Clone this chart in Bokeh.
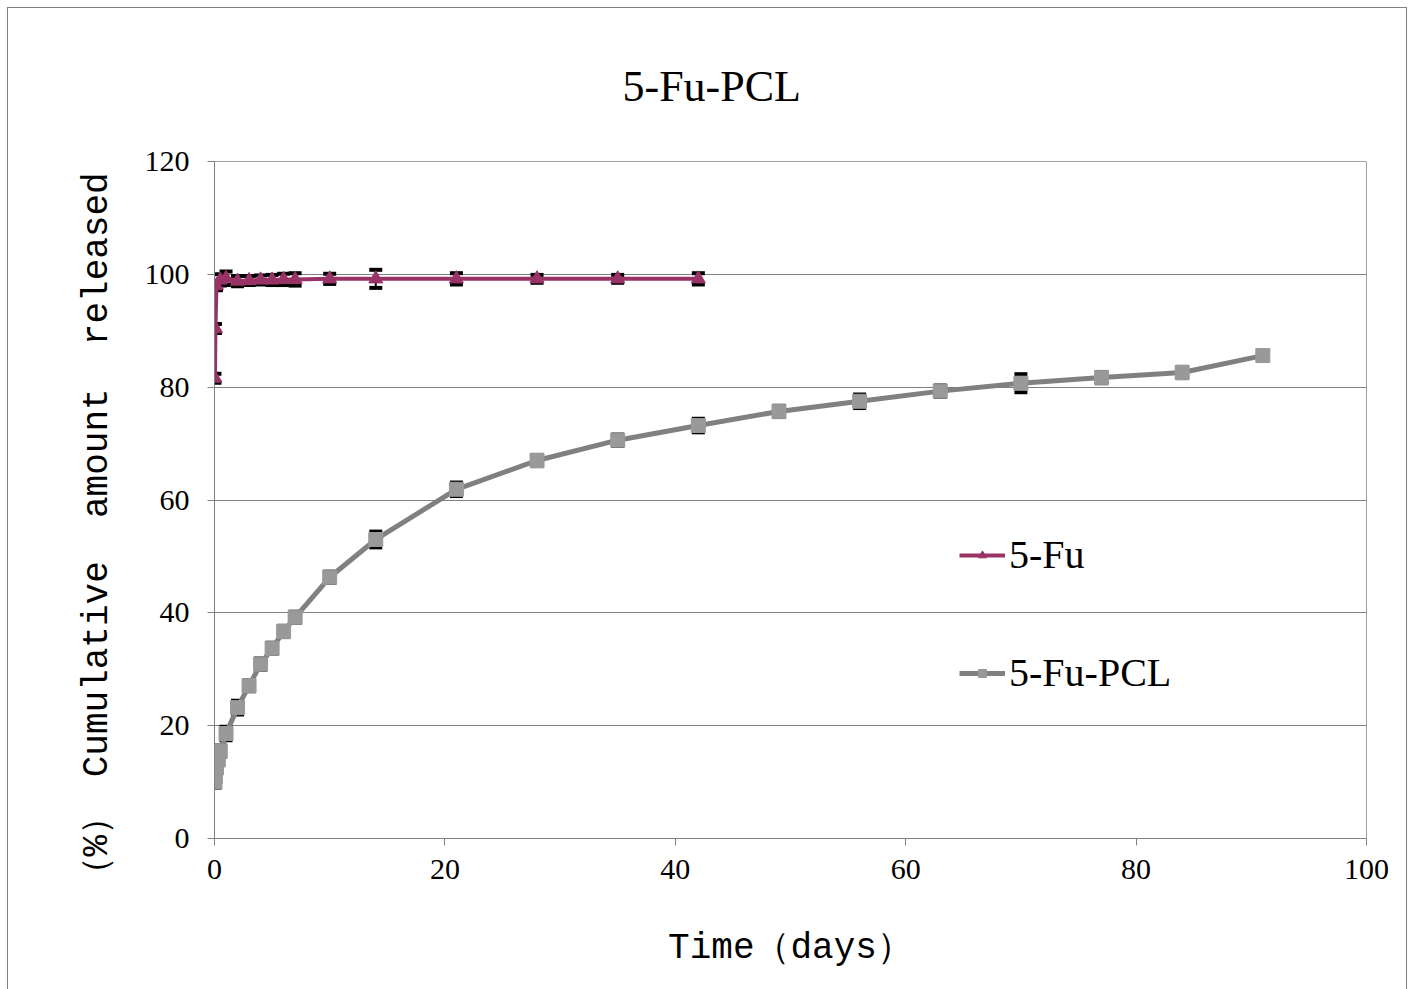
from bokeh.plotting import figure
from bokeh.models import ColumnDataSource, Whisker, TeeHead, Legend, LegendItem, FixedTicker, Range1d
from bokeh.embed import file_html
from bokeh.resources import INLINE

# ---- data ----
fu_t = [0.04, 0.08, 0.17, 0.5, 1, 2, 3, 4, 5, 6, 7, 10, 14, 21, 28, 35, 42]
fu_v = [81.6, 90.4, 98.0, 99.0, 99.3, 98.8, 98.9, 99.0, 99.0, 99.1, 99.1, 99.2, 99.2, 99.2, 99.2, 99.2, 99.2]
fu_e = [0.8, 0.8, 0.8, 1.0, 1.2, 0.9, 0.8, 0.8, 0.9, 1.0, 1.1, 0.9, 1.6, 1.0, 0.7, 0.7, 1.0]

pcl_t = [0.04, 0.08, 0.17, 0.33, 0.5, 1, 2, 3, 4, 5, 6, 7, 10, 14, 21, 28, 35, 42, 49, 56, 63, 70, 77, 84, 91]
pcl_v = [10.0, 11.0, 12.5, 14.0, 15.5, 18.6, 23.2, 27.1, 30.9, 33.7, 36.7, 39.2, 46.3, 53.0, 61.9, 67.0,
         70.6, 73.2, 75.7, 77.5, 79.3, 80.7, 81.7, 82.6, 85.6]
pcl_e = [1.0, 1.0, 1.0, 1.0, 1.0, 1.2, 1.2, 1.0, 1.0, 1.0, 1.0, 1.0, 1.0, 1.4, 1.2, 1.0,
         1.0, 1.2, 1.0, 1.2, 1.0, 1.6, 1.0, 1.0, 0.6]

x_ticks = [0, 20, 40, 60, 80, 100]
y_ticks = [0, 20, 40, 60, 80, 100, 120]

title_text = "5-Fu-PCL"
x_label = "Time（days）"
y_label = "（%）\u00a0Cumulative\u00a0 amount\u00a0 released\u00a0\u00a0\u00a0"

# page offset of the drawing (a 1px frame sits 8px in from the page corner)
OX, OY = 8, 8
W, H = 1400, 983
ML, MT = 214 - OX, 161 - OY
MR = W - (1366 - OX)
MB = H - (838 - OY)
p = figure(width=W, height=H, output_backend="svg", toolbar_location=None,
           x_range=Range1d(0, 100), y_range=Range1d(0, 120),
           min_border_left=ML, min_border_right=MR, min_border_top=MT, min_border_bottom=MB)
p.background_fill_color = "white"
p.border_fill_color = "white"
p.outline_line_color = "#a0a0a0"
p.outline_line_width = 1
p.styles = {"margin-left": "7px", "margin-top": "7px", "border": "1px solid #808080"}

p.title.text = title_text
p.title.align = "left"
p.title.offset = 408
p.title.standoff = 102
p.title.text_font = "Liberation Serif"
p.title.text_font_size = "44px"
p.title.text_font_style = "normal"
p.title.text_color = "black"

p.xgrid.grid_line_color = None
p.ygrid.grid_line_color = "#808080"
p.ygrid.grid_line_width = 1

p.xaxis.ticker = FixedTicker(ticks=x_ticks)
p.yaxis.ticker = FixedTicker(ticks=y_ticks)
for ax in (p.xaxis[0], p.yaxis[0]):
    ax.axis_line_color = "#808080"
    ax.major_tick_line_color = "#808080"
    ax.minor_tick_line_color = None
    ax.major_tick_in = 0
    ax.major_tick_out = 7
    ax.major_label_text_font = "Liberation Serif"
    ax.major_label_text_font_size = "30px"
    ax.major_label_text_color = "black"
    ax.axis_label_text_font = "Liberation Mono"
    ax.axis_label_text_font_size = "36px"
    ax.axis_label_text_font_style = "normal"
    ax.axis_label_text_color = "black"
p.xaxis.major_label_standoff = 14
p.yaxis.major_label_standoff = 18
p.xaxis.axis_label = x_label
p.yaxis.axis_label = y_label
p.xaxis.axis_label_standoff = 46
p.yaxis.axis_label_standoff = 24

# error bars
s_fu = ColumnDataSource(dict(x=fu_t, y=fu_v, lo=[v - e for v, e in zip(fu_v, fu_e)], hi=[v + e for v, e in zip(fu_v, fu_e)]))
s_pcl = ColumnDataSource(dict(x=pcl_t, y=pcl_v, lo=[v - e for v, e in zip(pcl_v, pcl_e)], hi=[v + e for v, e in zip(pcl_v, pcl_e)]))
for s in (s_pcl, s_fu):
    w = Whisker(source=s, base="x", upper="hi", lower="lo", line_color="black", line_width=2,
                upper_head=TeeHead(size=13, line_color="black", line_width=4),
                lower_head=TeeHead(size=13, line_color="black", line_width=4))
    p.add_layout(w)

l2 = p.line("x", "y", source=s_pcl, line_color="#808080", line_width=5)
m2 = p.scatter("x", "y", source=s_pcl, marker="square", size=14, fill_color="#999999", line_color="#999999")
l1 = p.line("x", "y", source=s_fu, line_color="#993366", line_width=4)
m1 = p.scatter("x", "y", source=s_fu, marker="triangle", size=14, fill_color="#993366", line_color="#993366")

legend = Legend(items=[LegendItem(label="5-Fu", renderers=[l1, m1]),
                       LegendItem(label="5-Fu-PCL", renderers=[l2, m2])],
                location=(745, 142), orientation="vertical", spacing=71,
                label_text_font="Liberation Serif", label_text_font_size="40px",
                label_text_color="black", background_fill_alpha=0, border_line_color=None,
                glyph_width=46, glyph_height=20, label_standoff=4, padding=0, margin=0)
p.add_layout(legend, "center")

open("out.html", "w").write(file_html(p, INLINE))
